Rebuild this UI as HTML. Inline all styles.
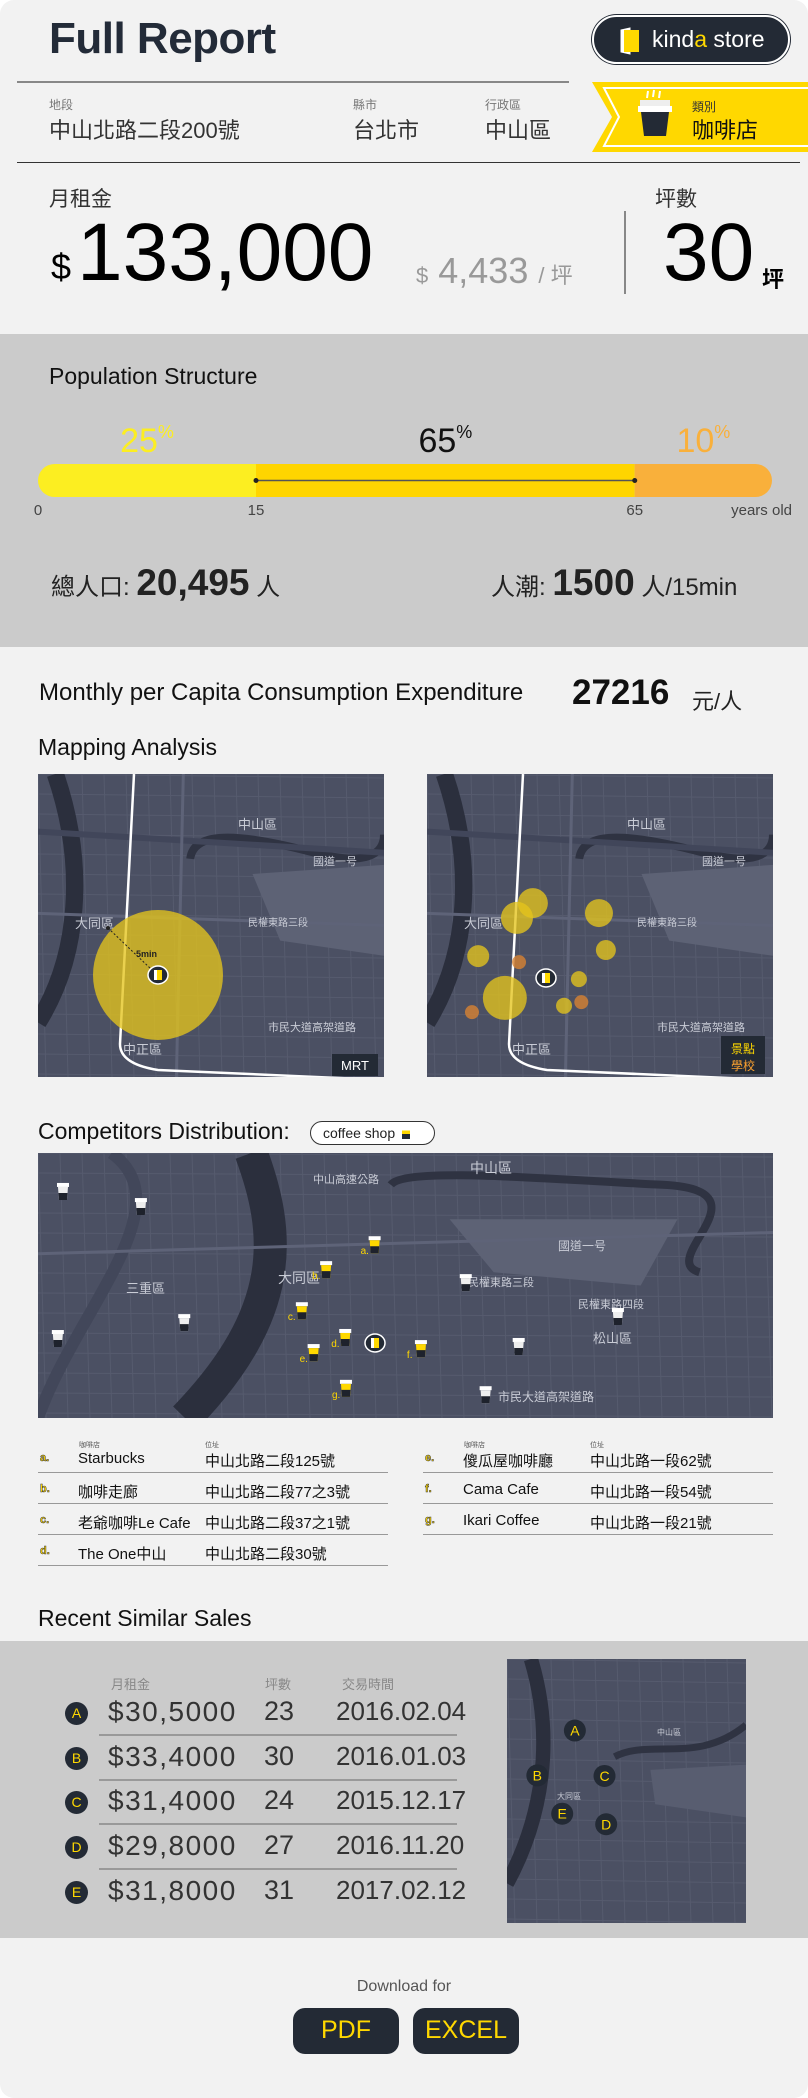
<!DOCTYPE html>
<html><head><meta charset="utf-8">
<style>
*{box-sizing:border-box;margin:0;padding:0}
body{width:808px;height:2098px;background:#fff;position:relative;overflow:hidden;font-family:"Liberation Sans","Noto Sans CJK TC",sans-serif;color:#222}
#page{position:absolute;left:0;top:0;width:808px;height:2098px;background:#f2f2f2;border-radius:14px;overflow:hidden}
.a{position:absolute;white-space:nowrap}
.gray{background:#cbcbcb}
.btn{background:#232a35;color:#ffd800;border-radius:12px;font-size:25px;text-align:center;line-height:45px}
.row-line{position:absolute;height:1px;background:#999}
</style></head>
<body>
<div id="page">
  <div class="a" style="left:49px;top:14px;font-size:44px;font-weight:bold;color:#232b38;letter-spacing:-0.5px">Full Report</div>
  <div class="a" style="left:592px;top:15px;width:198px;height:49px;border-radius:25px;background:#232a35;border:2px solid #fff;box-shadow:0 0 0 1px #232a35">
    <svg class="a" style="left:24px;top:10px" width="24" height="28"><path d="M3 3 L12 1 L12 27 L3 25Z" fill="#fff" stroke="#fff"/><rect x="6" y="3" width="15" height="22" fill="#ffd800"/></svg>
    <div class="a" style="left:58px;top:9px;font-size:23px;color:#fff">kind<span style="color:#ffd800">a</span> store</div>
  </div>
  <div class="a" style="left:17px;top:81px;width:552px;height:2px;background:#888"></div>
  <div class="a" style="left:17px;top:162px;width:783px;height:1px;background:#333"></div>

  <div class="a" style="left:49px;top:96px;font-size:12px;color:#777">地段</div>
  <div class="a" style="left:49px;top:113px;font-size:22px;color:#333">中山北路二段200號</div>
  <div class="a" style="left:353px;top:96px;font-size:12px;color:#777">縣市</div>
  <div class="a" style="left:353px;top:113px;font-size:22px;color:#333">台北市</div>
  <div class="a" style="left:485px;top:96px;font-size:12px;color:#777">行政區</div>
  <div class="a" style="left:485px;top:113px;font-size:22px;color:#333">中山區</div>

  <svg class="a" style="left:592px;top:82px" width="216" height="70">
    <polygon points="0,0 216,0 216,70 0,70 20,35" fill="#ffd800"/>
    <polyline points="216,6 12,6 27,35 12,64 216,64" fill="none" stroke="#fff" stroke-width="2"/>
    <rect x="48" y="18" width="30" height="7" fill="#eee"/><rect x="46" y="24" width="34" height="6" fill="#fff"/>
    <path d="M49 30 L77 30 L74 54 L52 54Z" fill="#232a35"/>
    <path d="M56 9 l-1 7 M62 8 l-1 7 M68 9 l-1 7" stroke="#fff" stroke-width="2"/>
  </svg>
  <div class="a" style="left:692px;top:98px;font-size:12px;color:#333">類別</div>
  <div class="a" style="left:692px;top:113px;font-size:22px;color:#111">咖啡店</div>

  <div class="a" style="left:49px;top:183px;font-size:21px;color:#333">月租金</div>
  <div class="a" style="left:51px;top:246px;font-size:36px;color:#000">$</div>
  <div class="a" style="left:77px;top:206px;font-size:82px;color:#000">133,000</div>
  <div class="a" style="left:416px;top:250px;font-size:36px;color:#999"><span style="font-size:22px">$</span> 4,433 <span style="font-size:22px">/ 坪</span></div>
  <div class="a" style="left:624px;top:211px;width:2px;height:83px;background:#888"></div>
  <div class="a" style="left:655px;top:183px;font-size:21px;color:#333">坪數</div>
  <div class="a" style="left:663px;top:206px;font-size:82px;color:#000">30</div>
  <div class="a" style="left:762px;top:262px;font-size:22px;font-weight:bold;color:#000">坪</div>

  <div class="a gray" style="left:0;top:334px;width:808px;height:313px"></div>
  <div class="a" style="left:49px;top:363px;font-size:23px;color:#111">Population Structure</div>
  <svg id="popchart" class="a" style="left:0;top:410px" width="808" height="115"></svg>
  <div class="a" style="left:51px;top:562px;font-size:24px;color:#222">總人口: <b style="font-size:37px">20,495</b> 人</div>
  <div class="a" style="left:491px;top:562px;font-size:24px;color:#222">人潮: <b style="font-size:37px">1500</b> 人/15min</div>

  <div class="a" style="left:39px;top:679px;font-size:24px;color:#111">Monthly per Capita Consumption Expenditure</div>
  <div class="a" style="left:572px;top:673px;font-size:35px;font-weight:bold;color:#111">27216</div>
  <div class="a" style="left:692px;top:684px;font-size:22px;color:#222">元/人</div>

  <div class="a" style="left:38px;top:734px;font-size:23px;color:#111">Mapping Analysis</div>
  <svg id="map1" class="a" style="left:38px;top:774px" width="346" height="303"></svg>
  <svg id="map2" class="a" style="left:427px;top:774px" width="346" height="303"></svg>

  <div class="a" style="left:38px;top:1118px;font-size:23px;color:#111">Competitors Distribution:</div>
  <div class="a" style="left:310px;top:1121px;width:125px;height:24px;border:1px solid #333;border-radius:12px;font-size:14px;padding:3px 0 0 12px;background:#fff">coffee shop <span style="display:inline-block;width:8px;height:12px;background:linear-gradient(#fff 30%,#ffd800 30%,#ffd800 60%,#232a35 60%);vertical-align:-1px;margin-left:3px"></span></div>
  <svg id="map3" class="a" style="left:38px;top:1153px" width="735" height="265"></svg>
  <div id="complist"></div>

  <div class="a" style="left:38px;top:1605px;font-size:23px;color:#111">Recent Similar Sales</div>
  <div class="a gray" style="left:0;top:1641px;width:808px;height:297px"></div>
  <div class="a" style="left:111px;top:1674px;font-size:13px;color:#888">月租金</div>
  <div class="a" style="left:265px;top:1674px;font-size:13px;color:#888">坪數</div>
  <div class="a" style="left:342px;top:1674px;font-size:13px;color:#888">交易時間</div>
  <div id="salestable"></div>
  <svg id="map4" class="a" style="left:507px;top:1659px" width="239" height="264"></svg>

  <div class="a" style="left:0;top:1978px;width:808px;text-align:center;font-size:16px;color:#555">Download for</div>
  <div class="a btn" style="left:293px;top:2008px;width:106px;height:46px">PDF</div>
  <div class="a btn" style="left:413px;top:2008px;width:106px;height:46px">EXCEL</div>
</div>

<script>
// Population data
const popShares = [25, 65, 10];
const popAgeBreaks = [0, 15, 65, 90];
const popTickLabels = ["0", "15", "65"];
const popColors = ["#fcee21", "#ffd500", "#f9b03b"];
// competitors
const compLetters = ["a","b","c","d","e","f","g"];
const compNames = ["Starbucks","咖啡走廊","老爺咖啡Le Cafe","The One中山","傻瓜屋咖啡廳","Cama Cafe","Ikari Coffee"];
const compAddrs = ["中山北路二段125號","中山北路二段77之3號","中山北路二段37之1號","中山北路二段30號","中山北路一段62號","中山北路一段54號","中山北路一段21號"];
const compMapX = [0.458,0.392,0.359,0.418,0.375,0.521,0.419];
const compMapY = [0.348,0.442,0.597,0.698,0.755,0.740,0.890];
const otherMapX = [0.034,0.140,0.199,0.027,0.582,0.789,0.654,0.609];
const otherMapY = [0.147,0.204,0.642,0.702,0.491,0.619,0.732,0.914];
// POI (right map)
const poiX = [0.306,0.260,0.497,0.148,0.517,0.439,0.225,0.396];
const poiY = [0.426,0.475,0.459,0.601,0.581,0.677,0.739,0.765];
const poiR = [15,16,14,11,10,8,22,8];
const schoolX = [0.266,0.446,0.130];
const schoolY = [0.621,0.753,0.786];
// sales
const salesLetters = ["A","B","C","D","E"];
const salesRent = ["$30,5000","$33,4000","$31,4000","$29,8000","$31,8000"];
const salesPing = [23,30,24,27,31];
const salesDate = ["2016.02.04","2016.01.03","2015.12.17","2016.11.20","2017.02.12"];
const salesMapX = [0.284,0.127,0.408,0.415,0.231];
const salesMapY = [0.271,0.441,0.443,0.626,0.586];

const NS="http://www.w3.org/2000/svg";
function el(tag,attrs,parent){const e=document.createElementNS(NS,tag);for(const k in attrs)e.setAttribute(k,attrs[k]);if(parent)parent.appendChild(e);return e;}

(function(){
  const svg=document.getElementById('popchart');
  const x0=38,x1=772;
  const frac=[0,0.297,0.813,1];
  function xAge(a){for(let i=0;i<popAgeBreaks.length-1;i++){if(a<=popAgeBreaks[i+1]){const t=(a-popAgeBreaks[i])/(popAgeBreaks[i+1]-popAgeBreaks[i]);return x0+(frac[i]+t*(frac[i+1]-frac[i]))*(x1-x0);}}return x1;}
  const by=54,bh=33;
  const clip=el('clipPath',{id:'barclip'},el('defs',{},svg));
  el('rect',{x:x0,y:by,width:x1-x0,height:bh,rx:16.5},clip);
  const g=el('g',{'clip-path':'url(#barclip)'},svg);
  const labelColors=["#fcee21","#111","#f9b03b"];
  for(let i=0;i<popShares.length;i++){
    const a=xAge(popAgeBreaks[i]),b=xAge(popAgeBreaks[i+1]);
    const r=el('rect',{x:a,y:by,width:b-a,height:bh,fill:popColors[i]},g);
    
    
    const t=el('text',{x:(a+b)/2,y:by-12,'text-anchor':'middle','font-size':34,fill:labelColors[i],'font-family':'Liberation Sans, sans-serif'},svg);
    
    
    t.textContent=popShares[i];
    const s=el('tspan',{'font-size':18,dy:-14},t);s.textContent='%';
  }
  const l1=xAge(popAgeBreaks[1]),l2=xAge(popAgeBreaks[2]);
  el('line',{x1:l1,x2:l2,y1:by+bh/2,y2:by+bh/2,stroke:'#555','stroke-width':1.5},svg);
  el('circle',{cx:l1,cy:by+bh/2,r:2.5,fill:'#222'},svg);
  el('circle',{cx:l2,cy:by+bh/2,r:2.5,fill:'#222'},svg);
  for(let i=0;i<popTickLabels.length;i++){
    const t=el('text',{x:xAge(popAgeBreaks[i]),y:105,'text-anchor':'middle','font-size':15,fill:'#444','font-family':'Liberation Sans, sans-serif'},svg);
    
    
    t.textContent=popTickLabels[i];
  }
  const yo=el('text',{x:792,y:105,'text-anchor':'end','font-size':15,fill:'#444','font-family':'Liberation Sans, sans-serif'},svg);
  
  
  yo.textContent='years old';
})();

function drawMap(svg,w,h,variant){
  el('rect',{x:0,y:0,width:w,height:h,fill:'#4b5063'},svg);
  for(let i=0;i<w;i+=22){el('line',{x1:i,y1:0,x2:i+8,y2:h,stroke:'#565b6e','stroke-width':1},svg);}
  for(let j=0;j<h;j+=20){el('line',{x1:0,y1:j,x2:w,y2:j+4,stroke:'#565b6e','stroke-width':1},svg);}
  if(variant===0){
    el('path',{d:`M${w*0.62} ${h*0.33} L${w} ${h*0.3} L${w} ${h*0.6} L${w*0.7} ${h*0.55} Z`,fill:'#5d6275'},svg);
    el('path',{d:`M${w*0.05} 0 C${w*0.14} ${h*0.3},${w*0.12} ${h*0.6},0 ${h*0.82}`,stroke:'#2b2f3d','stroke-width':w*0.05,fill:'none'},svg);
    el('path',{d:`M${w*0.44} ${h*0.28} C${w*0.45} ${h*0.18},${w*0.6} ${h*0.2},${w*0.8} ${h*0.26} S${w} ${h*0.22},${w} ${h*0.2}`,stroke:'#2f3342','stroke-width':8,fill:'none'},svg);
    el('path',{d:`M0 ${h*0.19} L${w} ${h*0.26}`,stroke:'#41465a','stroke-width':6},svg);
    el('path',{d:`M0 ${h*0.46} L${w} ${h*0.5}`,stroke:'#5e6378','stroke-width':3},svg);
    el('path',{d:`M${w*0.42} 0 L${w*0.4} ${h}`,stroke:'#5e6378','stroke-width':3},svg);
  } else if(variant===1){
    el('path',{d:`M${w*0.56} ${h*0.25} L${w*0.87} ${h*0.25} L${w*0.82} ${h*0.5} L${w*0.62} ${h*0.45} Z`,fill:'#5d6275'},svg);
    el('path',{d:`M${w*0.29} 0 C${w*0.33} ${h*0.3},${w*0.34} ${h*0.6},${w*0.2} ${h}`,stroke:'#2b2f3d','stroke-width':w*0.045,fill:'none'},svg);
    el('path',{d:`M${w*0.48} ${h*0.12} C${w*0.5} ${h*0.05},${w*0.7} ${h*0.1},${w*0.85} ${h*0.12} S${w*0.84} ${h*0.4},${w*0.9} ${h*0.45}`,stroke:'#2f3342','stroke-width':8,fill:'none'},svg);
    el('path',{d:`M${w*0.1} 0 C${w*0.2} ${h*0.2},${w*0.05} ${h*0.6},0 ${h}`,stroke:'#42475a','stroke-width':12,fill:'none'},svg);
    el('path',{d:`M0 ${h*0.38} L${w} ${h*0.3}`,stroke:'#5e6378','stroke-width':3},svg);
  } else {
    el('path',{d:`M${w*0.1} 0 C${w*0.2} ${h*0.3},${w*0.15} ${h*0.6},0 ${h*0.85}`,stroke:'#2b2f3d','stroke-width':w*0.06,fill:'none'},svg);
    el('path',{d:`M${w*0.45} ${h*0.37} C${w*0.6} ${h*0.3},${w*0.8} ${h*0.4},${w} ${h*0.25}`,stroke:'#2f3342','stroke-width':7,fill:'none'},svg);
    el('path',{d:`M${w*0.6} ${h*0.42} L${w} ${h*0.4} L${w} ${h*0.6} L${w*0.62} ${h*0.55}Z`,fill:'#585d70'},svg);
  }
}
function storeIcon(svg,x,y){
  const g=el('g',{},svg);
  el('ellipse',{cx:x,cy:y,rx:10,ry:9,fill:'#232a35',stroke:'#fff','stroke-width':1.5},g);
  el('rect',{x:x-4,y:y-5,width:3,height:10,fill:'#fff'},g);
  el('rect',{x:x-1,y:y-5,width:5,height:10,fill:'#ffd800'},g);
  return g;
}
function cupIcon(svg,x,y,yellow){
  const g=el('g',{},svg);
  el('rect',{x:x-6,y:y-9,width:12,height:4,fill:'#fff'},g);
  el('path',{d:`M${x-5} ${y-5} L${x+5} ${y-5} L${x+4} ${y+8} L${x-4} ${y+8}Z`,fill:yellow?'#ffd800':'#eee'},g);
  el('path',{d:`M${x-4.5} ${y+1} L${x+4.5} ${y+1} L${x+4} ${y+8} L${x-4} ${y+8}Z`,fill:'#1e222c'},g);
  return g;
}
function mapLabel(svg,x,y,t,s){const e=el('text',{x,y,'font-size':s||11,fill:'#c9ccd6','font-family':'Liberation Sans, Noto Sans CJK TC, sans-serif'},svg);e.textContent=t;return e;}

[['map1',false],['map2',true]].forEach(([id,poi])=>{
  const svg=document.getElementById(id);const w=346,h=303;
  drawMap(svg,w,h,0);
  mapLabel(svg,200,55,'中山區',13);mapLabel(svg,37,154,'大同區',13);mapLabel(svg,85,280,'中正區',13);
  mapLabel(svg,210,152,'民權東路三段',10);mapLabel(svg,230,257,'市民大道高架道路',11);mapLabel(svg,275,91,'國道一号',11);
  el('path',{d:`M96 0 L82 270 Q82 290 120 296 L346 306`,stroke:'#fff','stroke-width':2.5,fill:'none'},svg);
  if(!poi){
    const c=el('ellipse',{cx:120,cy:201,rx:65,ry:65,fill:'rgba(228,196,28,0.78)'},svg);
    
    
    el('line',{x1:70,y1:154,x2:114,y2:196,stroke:'#222','stroke-dasharray':'2 2'},svg);
    el('circle',{cx:70,cy:154,r:2,fill:'#222'},svg);
    const t=el('text',{x:98,y:183,'font-size':9,'font-weight':'bold',fill:'#222'},svg);t.textContent='5min';
    storeIcon(svg,120,201);
    el('rect',{x:294,y:280,width:46,height:22,fill:'#232a35'},svg);
    const m=el('text',{x:317,y:296,'text-anchor':'middle','font-size':13,fill:'#fff'},svg);m.textContent='MRT';
  } else {
    for(let i=0;i<poiX.length;i++){
      const c=el('circle',{cx:poiX[i]*w,cy:poiY[i]*h,r:poiR[i],fill:'rgba(228,196,28,0.78)'},svg);
      
      
    }
    for(let i=0;i<schoolX.length;i++){
      const c=el('circle',{cx:schoolX[i]*w,cy:schoolY[i]*h,r:7,fill:'rgba(215,130,50,0.8)'},svg);
      
      
    }
    storeIcon(svg,119,204);
    el('rect',{x:294,y:262,width:44,height:38,fill:'#232a35'},svg);
    const a=el('text',{x:316,y:279,'text-anchor':'middle','font-size':12,fill:'#ffd800'},svg);a.textContent='景點';
    const b=el('text',{x:316,y:296,'text-anchor':'middle','font-size':12,fill:'#f9a030'},svg);b.textContent='學校';
  }
});

(function(){
  const svg=document.getElementById('map3');const w=735,h=265;
  drawMap(svg,w,h,1);
  mapLabel(svg,432,20,'中山區',14);mapLabel(svg,240,130,'大同區',14);mapLabel(svg,88,140,'三重區',13);
  mapLabel(svg,555,190,'松山區',13);mapLabel(svg,275,30,'中山高速公路',11);mapLabel(svg,430,133,'民權東路三段',11);
  mapLabel(svg,540,155,'民權東路四段',11);mapLabel(svg,460,248,'市民大道高架道路',12);mapLabel(svg,520,97,'國道一号',12);
  for(let i=0;i<otherMapX.length;i++){
    const g=cupIcon(svg,otherMapX[i]*w,otherMapY[i]*h,false);
    
    
  }
  for(let i=0;i<compMapX.length;i++){
    const x=compMapX[i]*w,y=compMapY[i]*h;
    const g=cupIcon(svg,x,y,true);
    
    
    const t=el('text',{x:x-14,y:y+9,'font-size':10,fill:'#ffd800'},svg);t.textContent=compLetters[i]+'.';
  }
  storeIcon(svg,337,190);
})();

(function(){
  const box=document.getElementById('complist');
  const rowsL=[1462,1493,1524,1555];
  compNames.forEach((n,i)=>{
    const left=i<4,r=left?i:i-4,y=rowsL[r];
    const bx=left?38:423;
    const d=document.createElement('div');
    
    
    d.className='a';d.style.cssText=`left:${bx}px;top:${y-14}px;width:350px;height:26px`;
    d.innerHTML=`<span class="a" style="left:2px;top:4px;font-size:11px;font-weight:bold;color:#ffd800;-webkit-text-stroke:0.5px #333">${compLetters[i]}.</span><span class="a" style="left:40px;top:2px;font-size:15px;color:#111">${n}</span><span class="a" style="left:167px;top:2px;font-size:15px;color:#111">${compAddrs[i]}</span><div class="row-line" style="left:0;top:24px;width:350px"></div>`;
    box.appendChild(d);
  });
  [[79,'咖啡店'],[205,'位址'],[464,'咖啡店'],[590,'位址']].forEach(([x,t])=>{
    const s=document.createElement('div');
    
    
    s.className='a';s.style.cssText=`left:${x}px;top:1440px;font-size:7px;color:#555`;s.textContent=t;box.appendChild(s);
  });
})();

(function(){
  const box=document.getElementById('salestable');
  salesLetters.forEach((L,i)=>{
    const cy=1713+i*44.7;
    const d=document.createElement('div');
    
    
    d.className='a';d.style.cssText=`left:0;top:${cy-20}px;width:480px;height:40px`;
    d.innerHTML=`<div class="a" style="left:65px;top:9px;width:23px;height:23px;border-radius:50%;background:#232a35;color:#ffd800;font-size:14px;text-align:center;line-height:23px">${L}</div><span class="a" style="left:108px;top:3px;font-size:28px;letter-spacing:1.5px;color:#333">${salesRent[i]}</span><span class="a" style="left:264px;top:3px;font-size:27px;color:#333">${salesPing[i]}</span><span class="a" style="left:336px;top:3px;font-size:26px;color:#333">${salesDate[i]}</span>`+(i<4?`<div class="row-line" style="left:99px;top:41px;width:358px;height:2px;background:#999"></div>`:'');
    box.appendChild(d);
  });
  const svg=document.getElementById('map4');const w=239,h=264;
  drawMap(svg,w,h,2);
  mapLabel(svg,150,76,'中山區',8);mapLabel(svg,50,140,'大同區',8);
  el('circle',{cx:95,cy:168,r:4,fill:'#1e222c'},svg);
  salesLetters.forEach((L,i)=>{
    const x=salesMapX[i]*w,y=salesMapY[i]*h;
    const c=el('circle',{cx:x,cy:y,r:11,fill:'#232a35'},svg);
    
    
    const t=el('text',{x,y:y+5,'text-anchor':'middle','font-size':14,fill:'#ffd800'},svg);t.textContent=L;
  });
})();
</script>
</body></html>
